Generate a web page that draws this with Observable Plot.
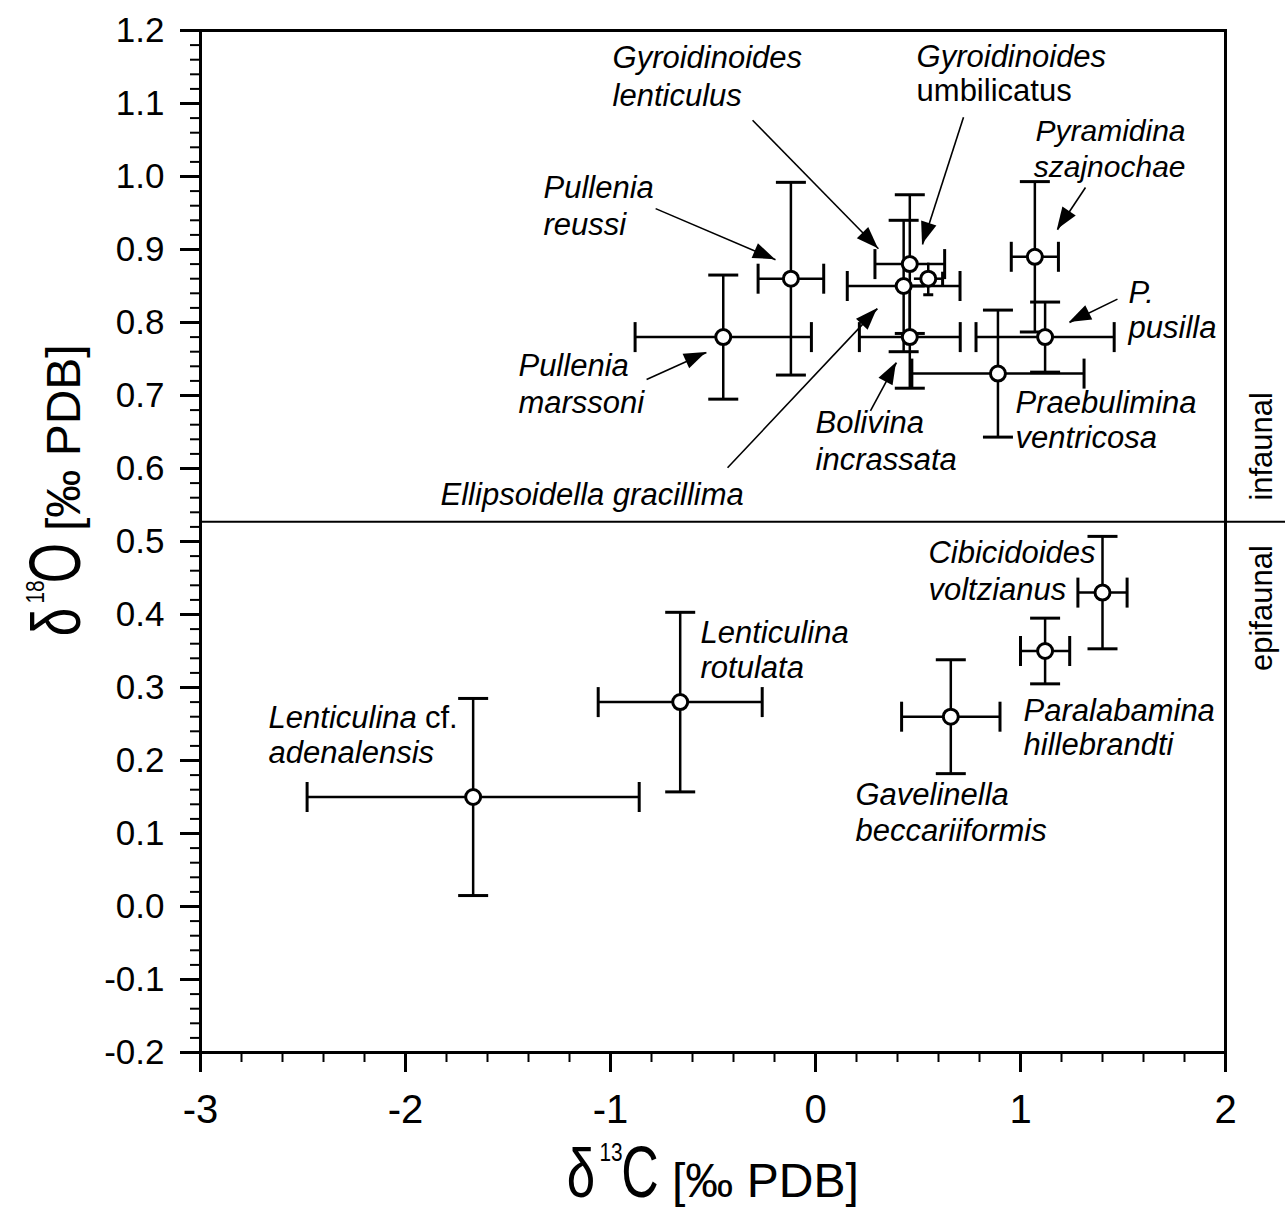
<!DOCTYPE html>
<html><head><meta charset="utf-8">
<script src="https://cdn.jsdelivr.net/npm/d3@7"></script>
<script src="https://cdn.jsdelivr.net/npm/@observablehq/plot@0.6"></script>
<style>body{margin:0;background:#fff} svg{display:block}</style>
</head><body><div id="chart"></div>
<script>
// ---- data ----
const species = ["Lenticulina cf. adenalensis","Lenticulina rotulata","Pullenia marssoni","Pullenia reussi",
  "Gyroidinoides lenticulus","Gyroidinoides umbilicatus","Ellipsoidella gracillima","Bolivina incrassata",
  "Pyramidina szajnochae","P. pusilla","Praebulimina ventricosa","Cibicidoides voltzianus",
  "Paralabamina hillebrandti","Gavelinella beccariiformis"];
const d13C    = [-1.67, -0.66, -0.45, -0.12, 0.46, 0.55, 0.43, 0.46, 1.07, 1.12, 0.89, 1.40, 1.12, 0.66];
const d18O    = [ 0.15,  0.28,  0.78,  0.86, 0.88, 0.86, 0.85, 0.78, 0.89, 0.78, 0.73, 0.43, 0.35, 0.26];
const d13CErr = [ 0.81,  0.40,  0.43,  0.16, 0.17, 0.07, 0.275,0.246,0.115,0.337,0.42, 0.12, 0.12, 0.24];
const d18OErr = [ 0.135, 0.123, 0.085, 0.132,0.095,0.022,0.09, 0.07, 0.103,0.048,0.087,0.077,0.045,0.078];

const xTicks = [-3, -2, -1, 0, 1, 2];
const yTicks = [-0.2, -0.1, 0.0, 0.1, 0.2, 0.3, 0.4, 0.5, 0.6, 0.7, 0.8, 0.9, 1.0, 1.1, 1.2];
const boundaryO = 0.527;                 // infaunal / epifaunal divide
const zoneNames = ["infaunal", "epifaunal"];
const zoneY = [0.556, 0.495];
const zoneAnchor = ["start", "end"];

// annotation text lines (anchor in data units)
const labelLines = [
  {text:"Pullenia", x:-1.327, y:0.984, a:"start", it:true},
  {text:"reussi", x:-1.327, y:0.934, a:"start", it:true},
  {text:"Pullenia", x:-1.449, y:0.740, a:"start", it:true},
  {text:"marssoni", x:-1.449, y:0.689, a:"start", it:true},
  {text:"Gyroidinoides", x:-0.990, y:1.162, a:"start", it:true},
  {text:"lenticulus", x:-0.990, y:1.110, a:"start", it:true},
  {text:"Gyroidinoides", x:0.493, y:1.164, a:"start", it:true},
  {text:"umbilicatus", x:0.493, y:1.117, a:"start", it:false},
  {text:"Pyramidina", x:1.805, y:1.062, a:"end", it:true},
  {text:"szajnochae", x:1.805, y:1.012, a:"end", it:true},
  {text:"P.", x:1.527, y:0.840, a:"start", it:true},
  {text:"pusilla", x:1.527, y:0.793, a:"start", it:true},
  {text:"Praebulimina", x:0.976, y:0.689, a:"start", it:true},
  {text:"ventricosa", x:0.976, y:0.641, a:"start", it:true},
  {text:"Bolivina", x:0.0, y:0.662, a:"start", it:true},
  {text:"incrassata", x:0.0, y:0.611, a:"start", it:true},
  {text:"Ellipsoidella gracillima", x:-1.829, y:0.564, a:"start", it:true},
  {text:"Cibicidoides", x:0.551, y:0.484, a:"start", it:true},
  {text:"voltzianus", x:0.551, y:0.433, a:"start", it:true},
  {text:"Paralabamina", x:1.015, y:0.268, a:"start", it:true},
  {text:"hillebrandti", x:1.015, y:0.221, a:"start", it:true},
  {text:"Gavelinella", x:0.195, y:0.152, a:"start", it:true},
  {text:"beccariiformis", x:0.195, y:0.104, a:"start", it:true},
  {text:"Lenticulina", x:-0.561, y:0.375, a:"start", it:true},
  {text:"rotulata", x:-0.561, y:0.327, a:"start", it:true},
  {text:"Lenticulina", x:-2.668, y:0.258, a:"start", it:true},
  {text:"cf.", x:-1.905, y:0.258, a:"start", it:false},
  {text:"adenalensis", x:-2.668, y:0.210, a:"start", it:true}
];
// leader arrows: tail (x1,y1) -> tip (x2,y2)
const arrows = [
  {x1:-0.780, y1:0.956, x2:-0.195, y2:0.886},
  {x1:-0.824, y1:0.722, x2:-0.532, y2:0.759},
  {x1:-0.307, y1:1.077, x2: 0.307, y2:0.901},
  {x1: 0.722, y1:1.081, x2: 0.522, y2:0.907},
  {x1: 1.317, y1:0.985, x2: 1.180, y2:0.927},
  {x1: 1.473, y1:0.832, x2: 1.239, y2:0.800},
  {x1: 0.268, y1:0.679, x2: 0.395, y2:0.745},
  {x1:-0.429, y1:0.601, x2: 0.302, y2:0.819}
];

// ---- build table ----
const pts = species.map((s, i) => ({name: s, c: d13C[i], o: d18O[i], ce: d13CErr[i], oe: d18OErr[i]}));
const bigBars = pts.filter(d => d.oe >= 0.03);
const smallBars = pts.filter(d => d.oe < 0.03);
const xMinor = d3.range(-3, 2.0001, 0.2);
const yMinor = d3.range(-0.2, 1.2001, 0.02);

const hCap = {draw(ctx, size){ const r = Math.sqrt(size/Math.PI); ctx.moveTo(-r,0); ctx.lineTo(r,0); }};
const vCap = {draw(ctx, size){ const r = Math.sqrt(size/Math.PI); ctx.moveTo(0,-r); ctx.lineTo(0,r); }};

const SANS = "'Liberation Sans', Arial, Helvetica, sans-serif";

const arrowHeads = (index, scales) => {
  const g = d3.create("svg:g").attr("fill", "black");
  for (const a of arrows) {
    const x1 = scales.x(a.x1), y1 = scales.y(a.y1), x2 = scales.x(a.x2), y2 = scales.y(a.y2);
    const ang = Math.atan2(y2 - y1, x2 - x1);
    const L = 22, W = 8;
    const bx = x2 - L * Math.cos(ang), by = y2 - L * Math.sin(ang);
    const px = -Math.sin(ang) * W, py = Math.cos(ang) * W;
    g.append("polygon").attr("points", `${x2},${y2} ${bx+px},${by+py} ${bx-px},${by-py}`);
  }
  return g.node();
};

// axis titles: big condensed delta + letter, small superscript, bracket unit
function titleParts(g, sup, letter) {
  const piece = (u, v, size, sx, txt, anchor) =>
    g.append("text").attr("transform", `translate(${u},${v}) scale(${sx},1)`)
     .attr("font-size", size).attr("text-anchor", anchor).text(txt);
  piece(19, 0, 68, 0.75, "δ", "middle");
  piece(49, -36, 26, 0.8, sup, "middle");
  piece(78, 0, 72, 0.72, letter, "middle");
  piece(110, 0, 48, 1, "[‰ PDB]", "start");
}
const axisTitles = (index, scales, values, dims) => {
  const g = d3.create("svg:g").attr("fill", "black").attr("font-family", SANS);
  const xt = g.append("g").attr("transform", `translate(${scales.x(-1.234)},${dims.height - 16})`);
  titleParts(xt, "13", "C");
  const yt = g.append("g").attr("transform", `translate(80,${scales.y(0.363)}) rotate(-90)`);
  titleParts(yt, "18", "O");
  return g.node();
};

const chart = Plot.plot({
  width: 1285, height: 1213,
  marginLeft: 200, marginRight: 60, marginTop: 30, marginBottom: 161,
  x: {domain: [-3, 2]},
  y: {domain: [-0.2, 1.2]},
  style: {fontFamily: SANS, background: "white", color: "black", overflow: "visible"},
  marks: [
    Plot.axisY(yMinor, {tickSize: 10, tickFormat: () => "", strokeWidth: 2, label: null}),
    Plot.axisY(yTicks, {tickSize: 20, tickPadding: 16, tickFormat: d => d.toFixed(1), fontSize: 35, strokeWidth: 3, label: null}),
    Plot.axisX(xMinor, {tickSize: 10, tickFormat: () => "", strokeWidth: 2, label: null}),
    Plot.axisX(xTicks, {tickSize: 20, tickPadding: 22, tickFormat: d => String(d), fontSize: 40, strokeWidth: 3, label: null}),
    Plot.frame({strokeWidth: 3}),
    Plot.ruleY([boundaryO], {x1: -3, x2: 2.3, strokeWidth: 2}),
    Plot.text([0], {x: 2.18, y: zoneY[0], text: () => zoneNames[0], rotate: -90, fontSize: 31, textAnchor: zoneAnchor[0]}),
    Plot.text([1], {x: 2.18, y: zoneY[1], text: () => zoneNames[1], rotate: -90, fontSize: 31, textAnchor: zoneAnchor[1]}),
    // leader arrows
    Plot.link(arrows, {x1: "x1", y1: "y1", x2: "x2", y2: "y2", strokeWidth: 1.6, stroke: "black"}),
    arrowHeads,
    // error bars
    Plot.link(pts, {x1: d => d.c - d.ce, x2: d => d.c + d.ce, y1: "o", y2: "o", strokeWidth: 2.5, stroke: "black"}),
    Plot.link(pts, {x1: "c", x2: "c", y1: d => d.o - d.oe, y2: d => d.o + d.oe, strokeWidth: 2.5, stroke: "black"}),
    Plot.dot(bigBars, {x: d => d.c - d.ce, y: "o", symbol: vCap, r: 15, stroke: "black", strokeWidth: 3, fill: "none"}),
    Plot.dot(bigBars, {x: d => d.c + d.ce, y: "o", symbol: vCap, r: 15, stroke: "black", strokeWidth: 3, fill: "none"}),
    Plot.dot(bigBars, {x: "c", y: d => d.o - d.oe, symbol: hCap, r: 15, stroke: "black", strokeWidth: 3, fill: "none"}),
    Plot.dot(bigBars, {x: "c", y: d => d.o + d.oe, symbol: hCap, r: 15, stroke: "black", strokeWidth: 3, fill: "none"}),
    Plot.dot(smallBars, {x: d => d.c + d.ce, y: "o", symbol: vCap, r: 7, stroke: "black", strokeWidth: 3, fill: "none"}),
    Plot.dot(smallBars, {x: "c", y: d => d.o - d.oe, symbol: hCap, r: 5, stroke: "black", strokeWidth: 3, fill: "none"}),
    Plot.dot(pts, {x: "c", y: "o", r: 7.5, fill: "white", stroke: "black", strokeWidth: 3}),
    // labels
    Plot.text(labelLines.filter(d => d.it && d.a === "start"), {x: "x", y: "y", text: "text", textAnchor: "start", fontStyle: "italic", fontSize: 31}),
    Plot.text(labelLines.filter(d => d.it && d.a === "end"), {x: "x", y: "y", text: "text", textAnchor: "end", fontStyle: "italic", fontSize: 30}),
    Plot.text(labelLines.filter(d => !d.it), {x: "x", y: "y", text: "text", textAnchor: "start", fontSize: 31}),
    axisTitles
  ]
});
document.getElementById("chart").append(chart);
</script></body></html>
